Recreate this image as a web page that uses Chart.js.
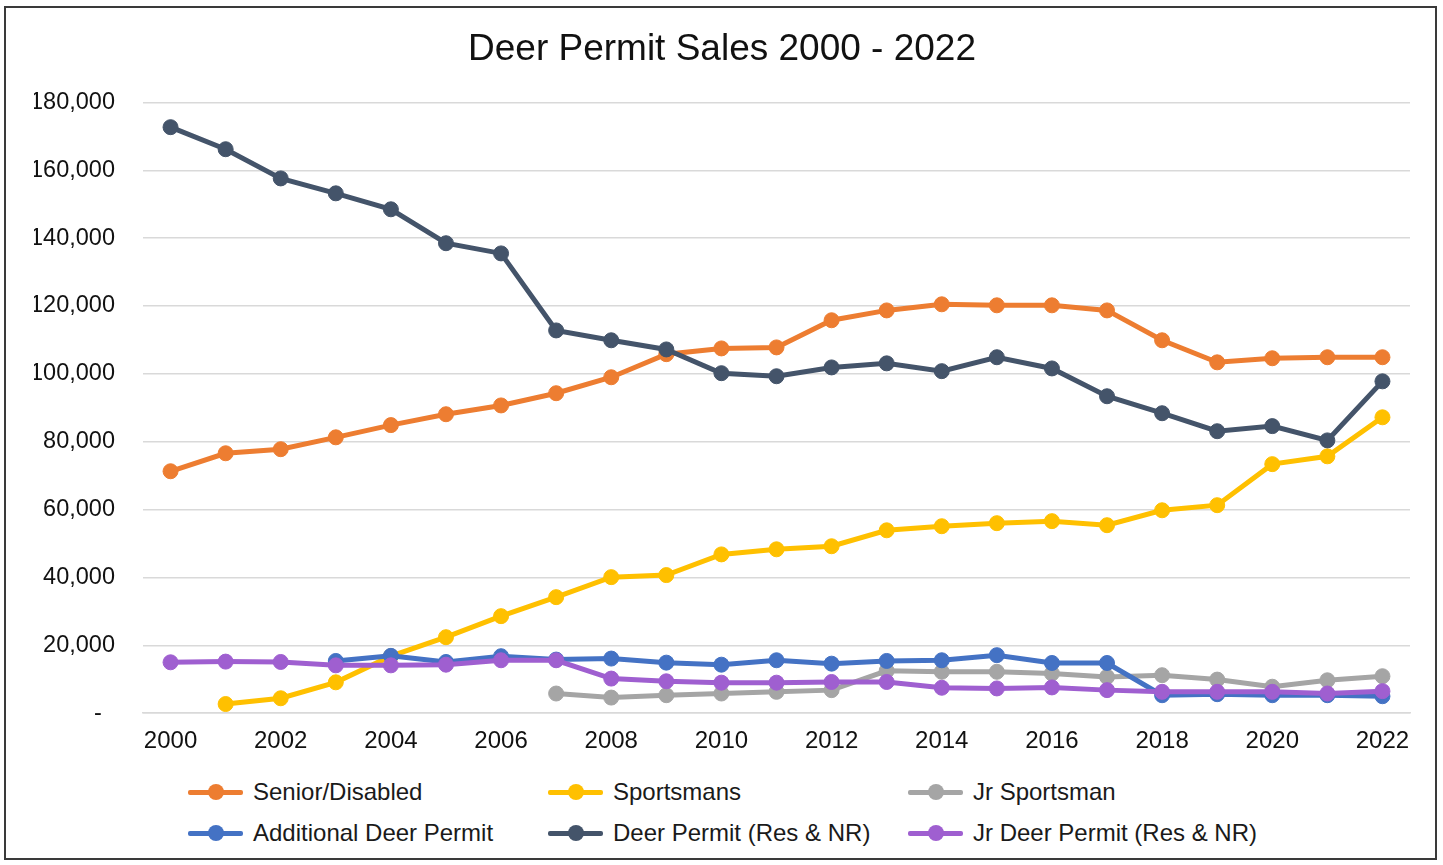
<!DOCTYPE html>
<html>
<head>
<meta charset="utf-8">
<title>Deer Permit Sales 2000 - 2022</title>
<script src="https://cdn.jsdelivr.net/npm/chart.js@4/dist/chart.umd.min.js"></script>
<style>
  html, body { margin: 0; padding: 0; background: #fff; }
  body { width: 1443px; height: 865px; position: relative; overflow: hidden; font-family: "Liberation Sans", Arial, sans-serif; }
  #frame { position: absolute; left: 4px; top: 6px; width: 1433px; height: 854px; border: 2px solid #3a3a3a; box-sizing: border-box; }
  #wrap { position: absolute; left: 0; top: 0; width: 1443px; height: 770px; }
  #legend { position: absolute; left: 188px; top: 772px; width: 1100px; }
  .item { position: absolute; height: 40px; display: flex; align-items: center; font-size: 24px; color: #1a1a1a; white-space: nowrap; }
  .swatch { position: relative; width: 55px; height: 40px; margin-right: 10px; }
  .swatch .ln { position: absolute; left: 0; top: 17.5px; width: 55px; height: 5px; border-radius: 2px; }
  .swatch .dot { position: absolute; left: 20px; top: 12px; width: 16px; height: 16px; border-radius: 50%; }
</style>
</head>
<body>
<div id="frame"></div>
<div id="wrap"><canvas id="chart" width="1443" height="770"></canvas></div>
<div id="legend"></div>
<script>
  const years = ['2000', '2001', '2002', '2003', '2004', '2005', '2006', '2007', '2008', '2009', '2010', '2011',
                 '2012', '2013', '2014', '2015', '2016', '2017', '2018', '2019', '2020', '2021', '2022'];

  const seniorDisabled = [71300, 76600, 77800, 81300, 84900, 88100, 90700, 94300, 99000, 105800, 107500, 107800,
                          115800, 118700, 120500, 120200, 120200, 118700, 109900, 103400, 104600, 104900, 104900];
  const sportsmans = [null, 2700, 4400, 9100, 16800, 22400, 28600, 34200, 40100, 40700, 46800, 48300,
                      49200, 53900, 55100, 56000, 56600, 55400, 59800, 61300, 73400, 75700, 87200];
  const jrSportsman = [null, null, null, null, null, null, null, 5800, 4600, 5300, 5800, 6300,
                       6800, 12500, 12200, 12200, 11700, 10700, 11200, 9900, 7800, 9700, 10900];
  const additionalDeer = [null, null, null, 15400, 16900, 15100, 16800, 15800, 16100, 14900, 14300, 15600,
                          14600, 15400, 15600, 17100, 14800, 14800, 5300, 5600, 5300, 5300, 5000];
  const deerPermit = [172700, 166200, 157600, 153200, 148500, 138500, 135500, 112800, 109900, 107200, 100200, 99300,
                      101900, 103100, 100800, 104900, 101600, 93400, 88400, 83100, 84600, 80400, 97800];
  const jrDeerPermit = [15000, 15200, 15100, 14100, 14100, 14300, 15600, 15600, 10200, 9400, 9000, 9000,
                        9200, 9200, 7500, 7300, 7600, 6800, 6300, 6300, 6300, 5800, 6500];

  const seriesNames = ['Senior/Disabled', 'Sportsmans', 'Jr Sportsman',
                       'Additional Deer Permit', 'Deer Permit (Res & NR)', 'Jr Deer Permit (Res & NR)'];
  const seriesData = [seniorDisabled, sportsmans, jrSportsman, additionalDeer, deerPermit, jrDeerPermit];
  const seriesColors = ['#ED7D31', '#FFC000', '#A5A5A5', '#4472C4', '#44546A', '#9F5FD0'];

  const yTicks = [0, 20000, 40000, 60000, 80000, 100000, 120000, 140000, 160000, 180000];

  const fontFamily = '"Liberation Sans", Arial, sans-serif';

  // later series sit on top, so the last one gets the lowest order
  const datasets = seriesNames.map((name, i) => ({
    label: name,
    data: seriesData[i],
    borderColor: seriesColors[i],
    backgroundColor: seriesColors[i],
    pointBackgroundColor: seriesColors[i],
    pointBorderColor: seriesColors[i],
    borderWidth: 5,
    pointRadius: 7.5,
    pointBorderWidth: 1,
    tension: 0,
    spanGaps: false,
    order: seriesNames.length - 1 - i
  }));

  new Chart(document.getElementById('chart'), {
    type: 'line',
    data: { labels: years, datasets },
    options: {
      responsive: false,
      animation: false,
      layout: { padding: { left: 34, right: 33, top: 0, bottom: 0 } },
      plugins: {
        legend: { display: false },
        tooltip: { enabled: false },
        title: {
          display: true,
          text: 'Deer Permit Sales 2000 - 2022',
          color: '#111',
          font: { family: fontFamily, size: 37, weight: 'normal', lineHeight: 1.2 },
          padding: { top: 28, bottom: 30 }
        }
      },
      scales: {
        x: {
          offset: true,
          grid: { display: false, drawTicks: false },
          border: { display: true, color: '#D9D9D9', width: 1.5 },
          ticks: {
            autoSkip: false,
            maxRotation: 0,
            padding: 14,
            color: '#111',
            font: { family: fontFamily, size: 24 },
            callback: (v, i) => (i % 2 === 0 ? years[i] : '')
          }
        },
        y: {
          min: 0,
          max: 180000,
          afterFit: scale => { scale.width = 109; },
          afterBuildTicks: scale => { scale.ticks = yTicks.map(v => ({ value: v })); },
          grid: { color: '#D9D9D9', lineWidth: 1.5, drawTicks: false },
          border: { display: false },
          ticks: {
            padding: 28,
            color: '#111',
            font: { family: fontFamily, size: 23.5 },
            callback: v => (v === 0 ? '-  ' : v.toLocaleString('en-US'))
          }
        }
      }
    }
  });

  // legend laid out in a 3-column grid under the plot
  const legend = document.getElementById('legend');
  seriesNames.forEach((name, i) => {
    const item = document.createElement('div');
    item.className = 'item';
    item.style.left = (i % 3) * 360 + 'px';
    item.style.top = Math.floor(i / 3) * 41 + 'px';
    item.innerHTML = '<div class="swatch"><div class="ln"></div><div class="dot"></div></div><span></span>';
    item.querySelector('.ln').style.background = seriesColors[i];
    item.querySelector('.dot').style.background = seriesColors[i];
    item.querySelector('span').textContent = name;
    legend.appendChild(item);
  });
</script>
</body>
</html>
